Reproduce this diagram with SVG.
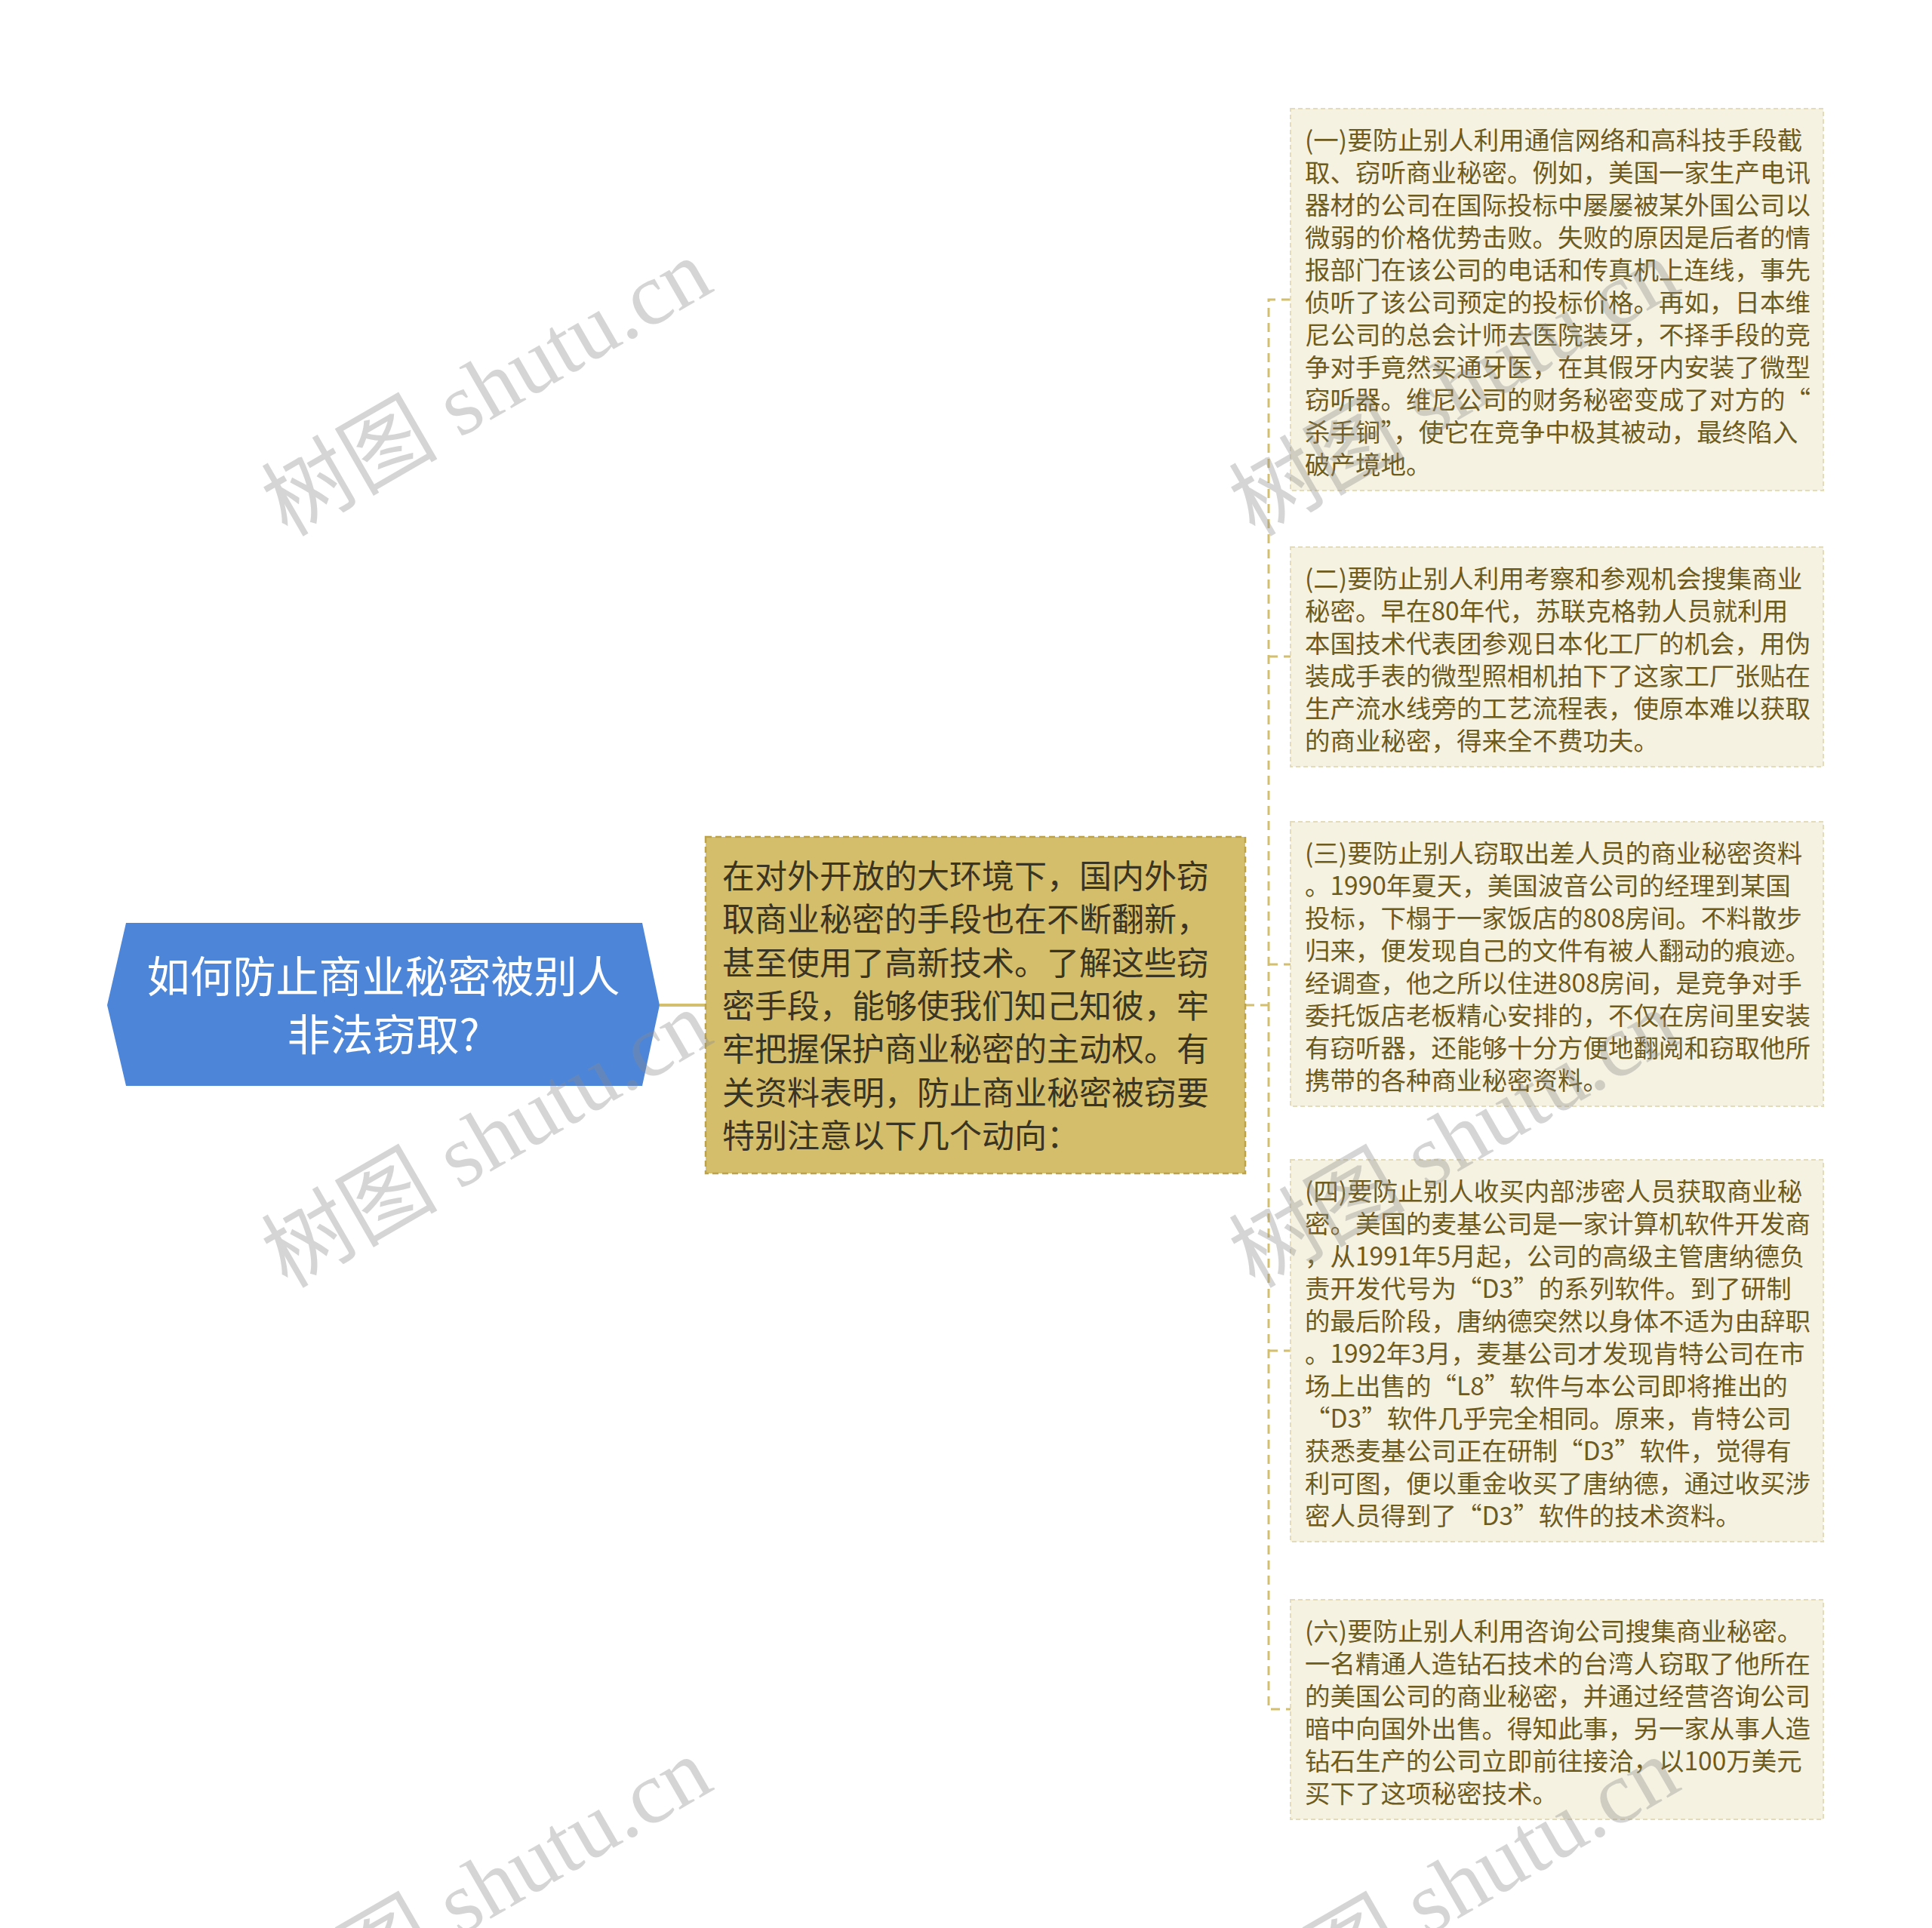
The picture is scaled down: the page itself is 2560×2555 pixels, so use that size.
<svg xmlns="http://www.w3.org/2000/svg" width="2560" height="2555" viewBox="0 0 2560 2555">
<style>
.root-t{font-family:"Noto Sans CJK SC","Noto Sans",sans-serif;font-size:57px;fill:#ffffff;text-anchor:middle;dominant-baseline:central}
.mid-t{font-family:"Noto Sans CJK SC","Noto Sans",sans-serif;font-size:43px;fill:#3a3422;dominant-baseline:central}
.leaf-t{font-family:"Noto Sans CJK SC","Noto Sans",sans-serif;font-size:33.5px;fill:#6e5b1e;dominant-baseline:central}
.leaf{fill:#f6f2e2;stroke:#e3dbb9;stroke-width:2;stroke-dasharray:6 4}
.conn{fill:none;stroke:#d4bf6e;stroke-width:3;stroke-dasharray:12 8}
.wm{font-family:"Liberation Serif","Noto Sans CJK SC",serif;font-size:117px;fill:#8a8a8a;fill-opacity:0.36;text-anchor:middle;dominant-baseline:central}
</style>
<rect width="2560" height="2555" fill="#ffffff"/>
<g id="connectors">
<line x1="874" y1="1332" x2="935" y2="1332" stroke="#d4bf6e" stroke-width="4"/>
<path class="conn" d="M1650 1332 H1681"/>
<path class="conn" d="M1710 397 H1681 V2265 H1710"/>
<path class="conn" d="M1681 870 H1710"/>
<path class="conn" d="M1681 1278 H1710"/>
<path class="conn" d="M1681 1790 H1710"/>
</g>
<g id="root">
<polygon points="142,1332 167,1223 851,1223 874,1332 851,1439 167,1439" fill="#4d86d9"/>
<text class="root-t" x="508" y="1290">如何防止商业秘密被别人</text>
<text class="root-t" x="508" y="1367">非法窃取?</text>
</g>
<g id="middle">
<rect x="935" y="1109" width="715" height="446" fill="#d4be6c" stroke="#bda24c" stroke-width="2.5" stroke-dasharray="8 5"/>
<text class="mid-t" x="957" y="1158">在对外开放的大环境下，国内外窃</text>
<text class="mid-t" x="957" y="1215">取商业秘密的手段也在不断翻新，</text>
<text class="mid-t" x="957" y="1273">甚至使用了高新技术。了解这些窃</text>
<text class="mid-t" x="957" y="1330">密手段，能够使我们知己知彼，牢</text>
<text class="mid-t" x="957" y="1387">牢把握保护商业秘密的主动权。有</text>
<text class="mid-t" x="957" y="1445">关资料表明，防止商业秘密被窃要</text>
<text class="mid-t" x="957" y="1502">特别注意以下几个动向：</text>
</g>
<g id="leaf1">
<rect class="leaf" x="1710" y="144" width="706" height="506"/>
<text class="leaf-t" x="1729" y="183">(一)要防止别人利用通信网络和高科技手段截</text>
<text class="leaf-t" x="1729" y="226">取、窃听商业秘密。例如，美国一家生产电讯</text>
<text class="leaf-t" x="1729" y="269">器材的公司在国际投标中屡屡被某外国公司以</text>
<text class="leaf-t" x="1729" y="312">微弱的价格优势击败。失败的原因是后者的情</text>
<text class="leaf-t" x="1729" y="355">报部门在该公司的电话和传真机上连线，事先</text>
<text class="leaf-t" x="1729" y="398">侦听了该公司预定的投标价格。再如，日本维</text>
<text class="leaf-t" x="1729" y="441">尼公司的总会计师去医院装牙，不择手段的竞</text>
<text class="leaf-t" x="1729" y="484">争对手竟然买通牙医，在其假牙内安装了微型</text>
<text class="leaf-t" x="1729" y="527">窃听器。维尼公司的财务秘密变成了对方的“</text>
<text class="leaf-t" x="1729" y="570">杀手锏”，使它在竞争中极其被动，最终陷入</text>
<text class="leaf-t" x="1729" y="613">破产境地。</text>
</g>
<g id="leaf2">
<rect class="leaf" x="1710" y="725" width="706" height="291"/>
<text class="leaf-t" x="1729" y="764">(二)要防止别人利用考察和参观机会搜集商业</text>
<text class="leaf-t" x="1729" y="807">秘密。早在80年代，苏联克格勃人员就利用</text>
<text class="leaf-t" x="1729" y="850">本国技术代表团参观日本化工厂的机会，用伪</text>
<text class="leaf-t" x="1729" y="893">装成手表的微型照相机拍下了这家工厂张贴在</text>
<text class="leaf-t" x="1729" y="936">生产流水线旁的工艺流程表，使原本难以获取</text>
<text class="leaf-t" x="1729" y="979">的商业秘密，得来全不费功夫。</text>
</g>
<g id="leaf3">
<rect class="leaf" x="1710" y="1089" width="706" height="377"/>
<text class="leaf-t" x="1729" y="1128">(三)要防止别人窃取出差人员的商业秘密资料</text>
<text class="leaf-t" x="1729" y="1171">。1990年夏天，美国波音公司的经理到某国</text>
<text class="leaf-t" x="1729" y="1214">投标，下榻于一家饭店的808房间。不料散步</text>
<text class="leaf-t" x="1729" y="1257">归来，便发现自己的文件有被人翻动的痕迹。</text>
<text class="leaf-t" x="1729" y="1300">经调查，他之所以住进808房间，是竞争对手</text>
<text class="leaf-t" x="1729" y="1343">委托饭店老板精心安排的，不仅在房间里安装</text>
<text class="leaf-t" x="1729" y="1386">有窃听器，还能够十分方便地翻阅和窃取他所</text>
<text class="leaf-t" x="1729" y="1429">携带的各种商业秘密资料。</text>
</g>
<g id="leaf4">
<rect class="leaf" x="1710" y="1537" width="706" height="506"/>
<text class="leaf-t" x="1729" y="1576">(四)要防止别人收买内部涉密人员获取商业秘</text>
<text class="leaf-t" x="1729" y="1619">密。美国的麦基公司是一家计算机软件开发商</text>
<text class="leaf-t" x="1729" y="1662">，从1991年5月起，公司的高级主管唐纳德负</text>
<text class="leaf-t" x="1729" y="1705">责开发代号为“D3”的系列软件。到了研制</text>
<text class="leaf-t" x="1729" y="1748">的最后阶段，唐纳德突然以身体不适为由辞职</text>
<text class="leaf-t" x="1729" y="1791">。1992年3月，麦基公司才发现肯特公司在市</text>
<text class="leaf-t" x="1729" y="1834">场上出售的“L8”软件与本公司即将推出的</text>
<text class="leaf-t" x="1729" y="1877">“D3”软件几乎完全相同。原来，肯特公司</text>
<text class="leaf-t" x="1729" y="1920">获悉麦基公司正在研制“D3”软件，觉得有</text>
<text class="leaf-t" x="1729" y="1963">利可图，便以重金收买了唐纳德，通过收买涉</text>
<text class="leaf-t" x="1729" y="2006">密人员得到了“D3”软件的技术资料。</text>
</g>
<g id="leaf5">
<rect class="leaf" x="1710" y="2120" width="706" height="291"/>
<text class="leaf-t" x="1729" y="2159">(六)要防止别人利用咨询公司搜集商业秘密。</text>
<text class="leaf-t" x="1729" y="2202">一名精通人造钻石技术的台湾人窃取了他所在</text>
<text class="leaf-t" x="1729" y="2245">的美国公司的商业秘密，并通过经营咨询公司</text>
<text class="leaf-t" x="1729" y="2288">暗中向国外出售。得知此事，另一家从事人造</text>
<text class="leaf-t" x="1729" y="2331">钻石生产的公司立即前往接洽，以100万美元</text>
<text class="leaf-t" x="1729" y="2374">买下了这项秘密技术。</text>
</g>
<g id="watermarks">
<text class="wm" x="645" y="514" transform="rotate(-30 645 514)">树图 shutu.cn</text>
<text class="wm" x="1927" y="514" transform="rotate(-30 1927 514)">树图 shutu.cn</text>
<text class="wm" x="645" y="1510" transform="rotate(-30 645 1510)">树图 shutu.cn</text>
<text class="wm" x="1927" y="1510" transform="rotate(-30 1927 1510)">树图 shutu.cn</text>
<text class="wm" x="645" y="2500" transform="rotate(-30 645 2500)">树图 shutu.cn</text>
<text class="wm" x="1927" y="2500" transform="rotate(-30 1927 2500)">树图 shutu.cn</text>
</g>
</svg>
